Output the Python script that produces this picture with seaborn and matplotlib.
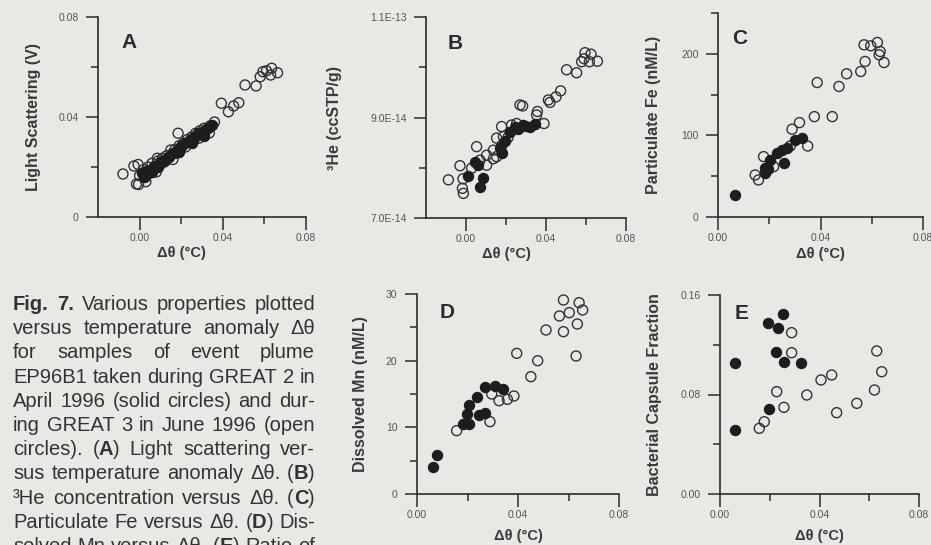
import matplotlib
matplotlib.use("Agg")
import matplotlib.pyplot as plt
import numpy as np
import seaborn as sns

# ---- data ----
# (A) light scattering (V) vs delta theta
ls_open_x = [-0.008, -0.0027, -0.0007, -0.0015, -0.0005, 0.003, 0.0185, 0.031, 0.0335, 0.036,
             0.0393, 0.0427, 0.0452, 0.0477, 0.0507, 0.056, 0.058, 0.0593, 0.061, 0.0635, 0.063, 0.0663,
             0.000, 0.002, 0.003, 0.004, 0.005, 0.006, 0.007, 0.008, 0.009, 0.010, 0.011, 0.012,
             0.013, 0.015, 0.016, 0.017, 0.018, 0.019, 0.020, 0.021, 0.022, 0.023, 0.024, 0.025,
             0.026, 0.027, 0.028, 0.029, 0.030, 0.032, 0.034, 0.0085, 0.0135, 0.015, 0.0285]
ls_open_y = [0.0172, 0.0204, 0.0210, 0.0132, 0.0130, 0.0141, 0.0335, 0.0355, 0.0336, 0.0380,
             0.0455, 0.0421, 0.0444, 0.0457, 0.0528, 0.0524, 0.0561, 0.0581, 0.0585, 0.0595, 0.0568, 0.0577,
             0.0165, 0.0190, 0.0160, 0.0200, 0.0175, 0.0215, 0.0195, 0.0180, 0.0225, 0.0210, 0.0235, 0.0220,
             0.0245, 0.0250, 0.0230, 0.0270, 0.0255, 0.0285, 0.0275, 0.0295, 0.0280, 0.0310, 0.0300, 0.0320,
             0.0305, 0.0335, 0.0325, 0.0345, 0.0330, 0.0350, 0.0365, 0.0235, 0.0235, 0.0268, 0.0315]
ls_solid_x = [0.001, 0.002, 0.003, 0.005, 0.006, 0.007, 0.009, 0.010, 0.012, 0.014, 0.016, 0.018,
              0.019, 0.020, 0.022, 0.024, 0.025, 0.026, 0.028, 0.030, 0.031, 0.033, 0.035]
ls_solid_y = [0.0175, 0.0160, 0.0185, 0.0190, 0.0180, 0.0205, 0.0200, 0.0220, 0.0230, 0.0240, 0.0255, 0.0270,
              0.0260, 0.0285, 0.0295, 0.0310, 0.0295, 0.0320, 0.0335, 0.0340, 0.0325, 0.0355, 0.0370]

# (B) 3He (ccSTP/g), in units of 1e-14
he_open_x = [-0.0088, -0.003, -0.0018, -0.0013, -0.0015, 0.0053, 0.0028, 0.007, 0.0103, 0.0137,
             0.0153, 0.0178, 0.0187, 0.0153, 0.0228, 0.0253, 0.027, 0.030, 0.0283, 0.0357, 0.0353,
             0.039, 0.0412, 0.042, 0.045, 0.0473, 0.0503, 0.0553, 0.0578, 0.0595, 0.059, 0.0617,
             0.0625, 0.0657, 0.0103, 0.0137, 0.018, 0.021]
he_open_y = [7.76, 8.04, 7.59, 7.49, 7.78, 8.42, 7.99, 8.15, 8.25, 8.35,
             8.22, 8.82, 8.62, 8.59, 8.85, 8.88, 9.25, 8.82, 9.23, 9.12, 9.05,
             8.88, 9.35, 9.30, 9.41, 9.53, 9.95, 9.89, 10.11, 10.29, 10.17, 10.11,
             10.26, 10.12, 8.05, 8.18, 8.45, 8.60]
he_solid_x = [0.0012, 0.007, 0.0087, 0.0045, 0.017, 0.0195, 0.022, 0.0245, 0.0287, 0.032,
              0.0345, 0.018, 0.006, 0.026]
he_solid_y = [7.84, 7.62, 7.79, 8.12, 8.39, 8.53, 8.72, 8.82, 8.85, 8.82,
              8.88, 8.30, 8.05, 8.78]

# (C) particulate Fe (nM/L)
fe_open_x = [0.0145, 0.0158, 0.0178, 0.0217, 0.0282, 0.0289, 0.0318, 0.035, 0.0376, 0.0387,
             0.0446, 0.0472, 0.0502, 0.0557, 0.0574, 0.057, 0.0596, 0.0622, 0.0633, 0.0629, 0.0648]
fe_open_y = [51.5, 45.4, 74.0, 61.7, 87.0, 107.6, 115.7, 87.0, 123.0, 164.8,
             123.0, 160.0, 175.5, 178.3, 190.6, 211.0, 209.8, 213.9, 202.8, 198.8, 189.3]
fe_solid_x = [0.0067, 0.0184, 0.0197, 0.0204, 0.023, 0.025, 0.0259, 0.0302, 0.0328, 0.0185, 0.027]
fe_solid_y = [27.0, 53.6, 58.5, 70.0, 78.0, 82.0, 66.6, 94.5, 96.5, 60.0, 84.0]

# (D) dissolved Mn (nM/L)
mn_open_x = [0.0157, 0.0289, 0.0296, 0.0325, 0.0358, 0.0384, 0.0395, 0.0451, 0.0478, 0.0511,
             0.0564, 0.058, 0.058, 0.0603, 0.063, 0.0635, 0.0642, 0.0656]
mn_open_y = [9.5, 10.85, 15.0, 14.0, 14.2, 14.7, 21.1, 17.6, 20.0, 24.6,
             26.7, 29.1, 24.35, 27.2, 20.7, 25.5, 28.7, 27.6]
mn_solid_x = [0.0065, 0.008, 0.0183, 0.0207, 0.0197, 0.0207, 0.0239, 0.0247, 0.0269, 0.0269,
              0.0309, 0.034]
mn_solid_y = [4.0, 5.85, 10.5, 10.5, 11.95, 13.35, 14.5, 11.85, 12.1, 16.0,
              16.2, 15.7]

# (E) bacterial capsule fraction
bc_open_x = [0.0288, 0.0288, 0.0228, 0.0257, 0.0158, 0.0178, 0.0349, 0.0406, 0.0449, 0.0469,
             0.055, 0.0621, 0.063, 0.065]
bc_open_y = [0.1297, 0.1136, 0.0823, 0.0697, 0.0528, 0.0581, 0.0796, 0.0917, 0.0957, 0.0654,
             0.0729, 0.0836, 0.1150, 0.0983]
bc_solid_x = [0.006, 0.006, 0.0194, 0.0234, 0.0255, 0.0225, 0.0257, 0.0326, 0.0198]
bc_solid_y = [0.1056, 0.0515, 0.1378, 0.1332, 0.1447, 0.1144, 0.1064, 0.1056, 0.0680]

x_major = [0.0, 0.04, 0.08]
x_major_labels = ["0.00", "0.04", "0.08"]
x_minor = [0.02, 0.06]

caption_lines = [
    "*Fig.* *7.* Various properties plotted",
    "versus temperature anomaly Δθ",
    "for samples of event plume",
    "EP96B1 taken during GREAT 2 in",
    "April 1996 (solid circles) and dur-",
    "ing GREAT 3 in June 1996 (open",
    "circles). (*A*) Light scattering ver-",
    "sus temperature anomaly Δθ. (*B*)",
    "³He concentration versus Δθ. (*C*)",
    "Particulate Fe versus Δθ. (*D*) Dis-",
    "solved Mn versus Δθ. (*E*) Ratio of",
]

W, H = 931, 545
BG = "#e8e8e5"
INK = "#2c2c2c"
TICKC = "#555555"

sns.set_style("ticks")
plt.rcParams["font.family"] = ["Liberation Sans", "DejaVu Sans"]

fig = plt.figure(figsize=(W / 100, H / 100), dpi=100, facecolor=BG)


def make_axes(left, right, top, bottom):
    ax = fig.add_axes([left / W, 1 - bottom / H, (right - left) / W, (bottom - top) / H])
    ax.set_facecolor("none")
    return ax


def draw_points(ax, ox, oy, sx, sy):
    sns.scatterplot(x=ox, y=oy, ax=ax, s=52, marker="o", facecolor="none",
                    edgecolor="#333333", linewidth=1.0, zorder=3)
    sns.scatterplot(x=sx, y=sy, ax=ax, s=52, marker="o", color="#1d1d1d",
                    edgecolor="#1d1d1d", linewidth=1.0, zorder=4)


def style(ax, xlim, ylim, y_major, y_labels, y_minor, ylabel, ylab_x, letter, let_xy,
          xlab_xy):
    ax.set_xlim(*xlim)
    ax.set_ylim(*ylim)
    ax.set_xticks(x_major, x_major_labels)
    ax.set_xticks(x_minor, minor=True)
    ax.set_yticks(y_major, y_labels)
    ax.set_yticks(y_minor, minor=True)
    for s in ["top", "right"]:
        ax.spines[s].set_visible(False)
    for s in ["left", "bottom"]:
        ax.spines[s].set_color(INK)
        ax.spines[s].set_linewidth(1.2)
    ax.tick_params(which="major", length=9, width=1.1, color=INK, labelsize=7.5,
                   labelcolor=TICKC)
    ax.tick_params(axis="y", which="major", pad=5)
    ax.tick_params(axis="x", which="major", pad=2.5)
    ax.tick_params(which="minor", length=5, width=1.1, color=INK)
    ax.set_ylabel(ylabel, fontsize=11.5, fontweight="bold", color="#3a3a3a", va="center")
    ax.yaxis.set_label_coords(ylab_x, 0.5)
    ax.set_xlabel("Δθ (°C)", fontsize=10.5, fontweight="bold", color="#3a3a3a", va="center")
    ax.xaxis.set_label_coords(*xlab_xy)
    ax.text(let_xy[0], let_xy[1], letter, transform=ax.transAxes, fontsize=15,
            fontweight="bold", color=INK, ha="left", va="center")


# A
axA = make_axes(98, 306, 17, 217)
draw_points(axA, ls_open_x, ls_open_y, ls_solid_x, ls_solid_y)
style(axA, (-0.02, 0.08), (0, 0.08), [0, 0.04, 0.08], ["0", "0.04", "0.08"], [0.02, 0.06],
      "Light Scattering (V)", -0.31, "A", (0.115, 0.87), (0.4, -0.18))

# B
axB = make_axes(426, 626, 17, 218)
draw_points(axB, he_open_x, np.array(he_open_y) * 1e-14, he_solid_x, np.array(he_solid_y) * 1e-14)
style(axB, (-0.02, 0.08), (7e-14, 1.1e-13), [7e-14, 9e-14, 1.1e-13],
      ["7.0E-14", "9.0E-14", "1.1E-13"], [8e-14, 1e-13],
      "³He (ccSTP/g)", -0.455, "B", (0.11, 0.87), (0.4, -0.18))

# C
axC = make_axes(718, 923, 13, 217)
draw_points(axC, fe_open_x, fe_open_y, fe_solid_x, fe_solid_y)
style(axC, (0, 0.08), (0, 250), [0, 100, 200], ["0", "100", "200"], [50, 150, 250],
      "Particulate Fe (nM/L)", -0.317, "C", (0.07, 0.877), (0.5, -0.18))

# D
axD = make_axes(417, 619, 294, 494)
draw_points(axD, mn_open_x, mn_open_y, mn_solid_x, mn_solid_y)
style(axD, (0, 0.08), (0, 30), [0, 10, 20, 30], ["0", "10", "20", "30"], [5, 15, 25],
      "Dissolved Mn (nM/L)", -0.28, "D", (0.11, 0.905), (0.5, -0.21))

# E
axE = make_axes(720, 919, 295, 494)
draw_points(axE, bc_open_x, bc_open_y, bc_solid_x, bc_solid_y)
style(axE, (0, 0.08), (0, 0.16), [0, 0.08, 0.16], ["0.00", "0.08", "0.16"], [0.04, 0.12],
      "Bacterial Capsule Fraction", -0.327, "E", (0.075, 0.905), (0.5, -0.21))

# caption, justified between two margins
renderer = fig.canvas.get_renderer()
cap_left, cap_right = 13, 315
base0, step = 310, 24.2
fs = 14.5


def run_width(txt, bold):
    t = fig.text(0, 0, txt, fontsize=fs, fontweight="bold" if bold else "normal")
    w = t.get_window_extent(renderer).width
    t.remove()
    return w


for i, line in enumerate(caption_lines):
    words = []
    for w in line.split(" "):
        parts = w.split("*")
        runs = [(p, k % 2 == 1) for k, p in enumerate(parts) if p]
        widths = [run_width(p, b) for p, b in runs]
        words.append((runs, widths))
    total = sum(sum(ws) for _, ws in words)
    gap = max((cap_right - cap_left - total) / max(len(words) - 1, 1), 3)
    x = cap_left
    yb = base0 + step * i
    for runs, widths in words:
        for (p, b), wd in zip(runs, widths):
            fig.text(x / W, 1 - yb / H, p, fontsize=fs, fontweight="bold" if b else "normal",
                     color="#333333", va="baseline", ha="left")
            x += wd
        x += gap

fig.savefig("out.png", dpi=100, facecolor=BG)
